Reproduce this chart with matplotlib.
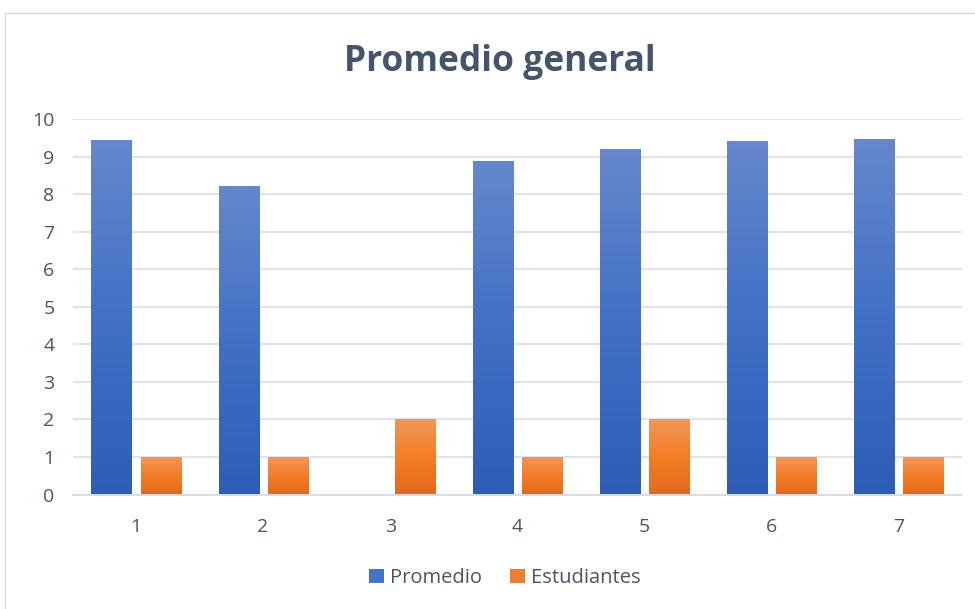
import numpy as np
import matplotlib
matplotlib.use("Agg")
import matplotlib.pyplot as plt
from matplotlib.colors import LinearSegmentedColormap
from matplotlib.patches import Rectangle

categories = ["1", "2", "3", "4", "5", "6", "7"]
promedio = [9.44, 8.22, 0, 8.88, 9.2, 9.41, 9.47]
estudiantes = [1, 1, 2, 1, 2, 1, 1]
series_names = ["Promedio", "Estudiantes"]
y_ticks = list(range(0, 11))

text_color = "#4A5568"
grid_color = "#E0E3E8"

plt.rcParams["font.family"] = ["Open Sans", "DejaVu Sans"]

fig = plt.figure(figsize=(9.75, 6.09), dpi=100)
fig.patch.set_facecolor("white")

# chart frame
fig.add_artist(Rectangle((4.5 / 975, -0.1), 1.2, 1 - 13.5 / 609 + 0.1,
                         transform=fig.transFigure, fill=False,
                         edgecolor="#D9D9D9", linewidth=1.0))

ax = fig.add_axes([72.5 / 975, 1 - 494.5 / 609, (962 - 72.5) / 975, (494.5 - 119) / 609])

x = np.arange(1, len(categories) + 1)
width = 0.315
off = 0.193

blue_cmap = LinearSegmentedColormap.from_list(
    "blue", ["#2E5DB7", "#4170C6", "#6688CC"])
orange_cmap = LinearSegmentedColormap.from_list(
    "orange", ["#E3691A", "#F47E25", "#F0975E"])

grad = np.linspace(0, 1, 256).reshape(-1, 1)


def gradient_bars(xs, vals, cmap):
    bars = ax.bar(xs, vals, width=width, color="none", edgecolor="none", zorder=3)
    for b in bars:
        h = b.get_height()
        if h <= 0:
            continue
        x0 = b.get_x()
        im = ax.imshow(grad, cmap=cmap, origin="lower", aspect="auto",
                       extent=(x0, x0 + b.get_width(), 0, h), zorder=3,
                       interpolation="bilinear")
        im.set_clip_path(b)
    return bars


gradient_bars(x - off, promedio, blue_cmap)
gradient_bars(x + off, estudiantes, orange_cmap)

ax.set_xlim(0.5, len(categories) + 0.5)
ax.set_ylim(0, 10)
ax.set_yticks(y_ticks)
ax.set_xticks(x)
ax.set_xticklabels(categories)
ax.yaxis.grid(True, color=grid_color, linewidth=1.5, zorder=0)
ax.set_axisbelow(True)
for s in ["top", "right", "left"]:
    ax.spines[s].set_visible(False)
ax.spines["bottom"].set_color("#D9DDE3")
ax.spines["bottom"].set_linewidth(1.5)
ax.tick_params(axis="both", length=0, labelsize=14, colors=text_color)
ax.tick_params(axis="y", pad=13)
ax.tick_params(axis="x", pad=17)

fig.text(500 / 975, 1 - 62 / 609, "Promedio general", ha="center", va="center",
         fontsize=25.5, fontweight="bold", color="#44546A",
         family=["Open Sans", "DejaVu Sans"])

handles = [Rectangle((0, 0), 1, 1, facecolor="#4472C4"),
           Rectangle((0, 0), 1, 1, facecolor="#ED7D31")]
fig.legend(handles, series_names, loc="center", bbox_to_anchor=(505 / 975, 1 - 578 / 609),
           ncol=2, frameon=False, fontsize=14.5, handlelength=0.75, handleheight=0.75,
           handletextpad=0.3, columnspacing=1.4, labelcolor=text_color)

fig.savefig("out.png", dpi=100)
